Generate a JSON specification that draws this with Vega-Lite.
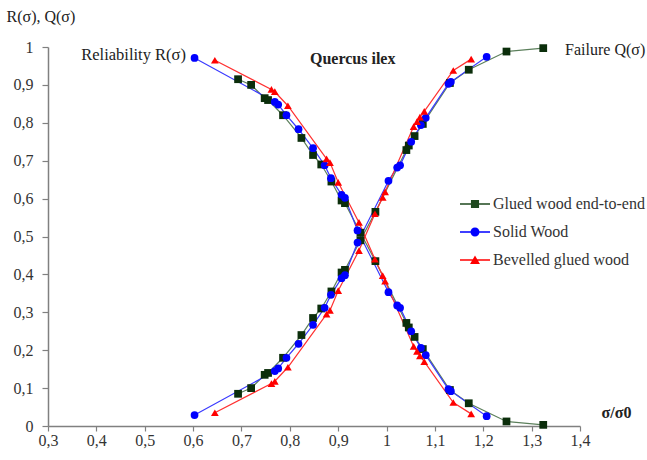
{
  "$schema": "https://vega.github.io/schema/vega-lite/v6.json",
  "width": 532,
  "height": 379,
  "autosize": {"type": "none"},
  "padding": {"left": 48, "top": 47, "right": 67, "bottom": 34},
  "background": "white",
  "config": {
    "view": {"stroke": null},
    "font": "Liberation Serif",
    "axis": {"grid": false, "domainColor": "#808080", "domainWidth": 1.5, "tickColor": "#808080", "tickWidth": 1.2,
      "labelFont": "Liberation Serif", "labelFontSize": 16, "labelColor": "#333", "labelFlush": false, "labelOverlap": false,
      "labelExpr": "replace(toString(datum.value), '.', ',')"},
    "axisX": {"tickCount": 12, "tickSize": 5, "labelPadding": 1},
    "axisY": {"tickCount": 11, "tickSize": 6, "labelPadding": 9}
  },
  "data": {
    "values": [
      {"s": "Glued wood end-to-end", "c": "Q", "r": 0.693, "p": 0.085},
      {"s": "Glued wood end-to-end", "c": "Q", "r": 0.720, "p": 0.100},
      {"s": "Glued wood end-to-end", "c": "Q", "r": 0.748, "p": 0.135},
      {"s": "Glued wood end-to-end", "c": "Q", "r": 0.755, "p": 0.140},
      {"s": "Glued wood end-to-end", "c": "Q", "r": 0.786, "p": 0.180},
      {"s": "Glued wood end-to-end", "c": "Q", "r": 0.824, "p": 0.240},
      {"s": "Glued wood end-to-end", "c": "Q", "r": 0.848, "p": 0.285},
      {"s": "Glued wood end-to-end", "c": "Q", "r": 0.865, "p": 0.310},
      {"s": "Glued wood end-to-end", "c": "Q", "r": 0.886, "p": 0.355},
      {"s": "Glued wood end-to-end", "c": "Q", "r": 0.907, "p": 0.405},
      {"s": "Glued wood end-to-end", "c": "Q", "r": 0.914, "p": 0.412},
      {"s": "Glued wood end-to-end", "c": "Q", "r": 0.946, "p": 0.490},
      {"s": "Glued wood end-to-end", "c": "Q", "r": 0.977, "p": 0.565},
      {"s": "Glued wood end-to-end", "c": "Q", "r": 1.041, "p": 0.728},
      {"s": "Glued wood end-to-end", "c": "Q", "r": 1.046, "p": 0.740},
      {"s": "Glued wood end-to-end", "c": "Q", "r": 1.058, "p": 0.765},
      {"s": "Glued wood end-to-end", "c": "Q", "r": 1.075, "p": 0.797},
      {"s": "Glued wood end-to-end", "c": "Q", "r": 1.131, "p": 0.905},
      {"s": "Glued wood end-to-end", "c": "Q", "r": 1.170, "p": 0.940},
      {"s": "Glued wood end-to-end", "c": "Q", "r": 1.248, "p": 0.988},
      {"s": "Glued wood end-to-end", "c": "Q", "r": 1.324, "p": 0.997},
      {"s": "Glued wood end-to-end", "c": "R", "r": 0.693, "p": 0.915},
      {"s": "Glued wood end-to-end", "c": "R", "r": 0.720, "p": 0.900},
      {"s": "Glued wood end-to-end", "c": "R", "r": 0.748, "p": 0.865},
      {"s": "Glued wood end-to-end", "c": "R", "r": 0.755, "p": 0.860},
      {"s": "Glued wood end-to-end", "c": "R", "r": 0.786, "p": 0.820},
      {"s": "Glued wood end-to-end", "c": "R", "r": 0.824, "p": 0.760},
      {"s": "Glued wood end-to-end", "c": "R", "r": 0.848, "p": 0.715},
      {"s": "Glued wood end-to-end", "c": "R", "r": 0.865, "p": 0.690},
      {"s": "Glued wood end-to-end", "c": "R", "r": 0.886, "p": 0.645},
      {"s": "Glued wood end-to-end", "c": "R", "r": 0.907, "p": 0.595},
      {"s": "Glued wood end-to-end", "c": "R", "r": 0.914, "p": 0.588},
      {"s": "Glued wood end-to-end", "c": "R", "r": 0.946, "p": 0.510},
      {"s": "Glued wood end-to-end", "c": "R", "r": 0.977, "p": 0.435},
      {"s": "Glued wood end-to-end", "c": "R", "r": 1.041, "p": 0.272},
      {"s": "Glued wood end-to-end", "c": "R", "r": 1.046, "p": 0.260},
      {"s": "Glued wood end-to-end", "c": "R", "r": 1.058, "p": 0.235},
      {"s": "Glued wood end-to-end", "c": "R", "r": 1.075, "p": 0.203},
      {"s": "Glued wood end-to-end", "c": "R", "r": 1.131, "p": 0.095},
      {"s": "Glued wood end-to-end", "c": "R", "r": 1.170, "p": 0.060},
      {"s": "Glued wood end-to-end", "c": "R", "r": 1.248, "p": 0.012},
      {"s": "Glued wood end-to-end", "c": "R", "r": 1.324, "p": 0.003},
      {"s": "Solid Wood", "c": "Q", "r": 0.603, "p": 0.029},
      {"s": "Solid Wood", "c": "Q", "r": 0.769, "p": 0.145},
      {"s": "Solid Wood", "c": "Q", "r": 0.776, "p": 0.152},
      {"s": "Solid Wood", "c": "Q", "r": 0.793, "p": 0.180},
      {"s": "Solid Wood", "c": "Q", "r": 0.818, "p": 0.217},
      {"s": "Solid Wood", "c": "Q", "r": 0.848, "p": 0.267},
      {"s": "Solid Wood", "c": "Q", "r": 0.872, "p": 0.312},
      {"s": "Solid Wood", "c": "Q", "r": 0.885, "p": 0.346},
      {"s": "Solid Wood", "c": "Q", "r": 0.907, "p": 0.390},
      {"s": "Solid Wood", "c": "Q", "r": 0.914, "p": 0.398},
      {"s": "Solid Wood", "c": "Q", "r": 0.940, "p": 0.484},
      {"s": "Solid Wood", "c": "Q", "r": 1.004, "p": 0.647},
      {"s": "Solid Wood", "c": "Q", "r": 1.022, "p": 0.682},
      {"s": "Solid Wood", "c": "Q", "r": 1.028, "p": 0.688},
      {"s": "Solid Wood", "c": "Q", "r": 1.051, "p": 0.750},
      {"s": "Solid Wood", "c": "Q", "r": 1.071, "p": 0.794},
      {"s": "Solid Wood", "c": "Q", "r": 1.081, "p": 0.813},
      {"s": "Solid Wood", "c": "Q", "r": 1.128, "p": 0.903},
      {"s": "Solid Wood", "c": "Q", "r": 1.133, "p": 0.908},
      {"s": "Solid Wood", "c": "Q", "r": 1.207, "p": 0.974},
      {"s": "Solid Wood", "c": "R", "r": 0.603, "p": 0.971},
      {"s": "Solid Wood", "c": "R", "r": 0.769, "p": 0.855},
      {"s": "Solid Wood", "c": "R", "r": 0.776, "p": 0.848},
      {"s": "Solid Wood", "c": "R", "r": 0.793, "p": 0.820},
      {"s": "Solid Wood", "c": "R", "r": 0.818, "p": 0.783},
      {"s": "Solid Wood", "c": "R", "r": 0.848, "p": 0.733},
      {"s": "Solid Wood", "c": "R", "r": 0.872, "p": 0.688},
      {"s": "Solid Wood", "c": "R", "r": 0.885, "p": 0.654},
      {"s": "Solid Wood", "c": "R", "r": 0.907, "p": 0.610},
      {"s": "Solid Wood", "c": "R", "r": 0.914, "p": 0.602},
      {"s": "Solid Wood", "c": "R", "r": 0.940, "p": 0.516},
      {"s": "Solid Wood", "c": "R", "r": 1.004, "p": 0.353},
      {"s": "Solid Wood", "c": "R", "r": 1.022, "p": 0.318},
      {"s": "Solid Wood", "c": "R", "r": 1.028, "p": 0.312},
      {"s": "Solid Wood", "c": "R", "r": 1.051, "p": 0.250},
      {"s": "Solid Wood", "c": "R", "r": 1.071, "p": 0.206},
      {"s": "Solid Wood", "c": "R", "r": 1.081, "p": 0.187},
      {"s": "Solid Wood", "c": "R", "r": 1.128, "p": 0.097},
      {"s": "Solid Wood", "c": "R", "r": 1.133, "p": 0.092},
      {"s": "Solid Wood", "c": "R", "r": 1.207, "p": 0.026},
      {"s": "Bevelled glued wood", "c": "Q", "r": 0.645, "p": 0.035},
      {"s": "Bevelled glued wood", "c": "Q", "r": 0.762, "p": 0.112},
      {"s": "Bevelled glued wood", "c": "Q", "r": 0.769, "p": 0.118},
      {"s": "Bevelled glued wood", "c": "Q", "r": 0.796, "p": 0.155},
      {"s": "Bevelled glued wood", "c": "Q", "r": 0.876, "p": 0.295},
      {"s": "Bevelled glued wood", "c": "Q", "r": 0.883, "p": 0.305},
      {"s": "Bevelled glued wood", "c": "Q", "r": 0.900, "p": 0.357},
      {"s": "Bevelled glued wood", "c": "Q", "r": 0.943, "p": 0.463},
      {"s": "Bevelled glued wood", "c": "Q", "r": 0.976, "p": 0.560},
      {"s": "Bevelled glued wood", "c": "Q", "r": 0.992, "p": 0.603},
      {"s": "Bevelled glued wood", "c": "Q", "r": 0.997, "p": 0.618},
      {"s": "Bevelled glued wood", "c": "Q", "r": 1.056, "p": 0.790},
      {"s": "Bevelled glued wood", "c": "Q", "r": 1.063, "p": 0.803},
      {"s": "Bevelled glued wood", "c": "Q", "r": 1.069, "p": 0.815},
      {"s": "Bevelled glued wood", "c": "Q", "r": 1.078, "p": 0.830},
      {"s": "Bevelled glued wood", "c": "Q", "r": 1.138, "p": 0.938},
      {"s": "Bevelled glued wood", "c": "Q", "r": 1.175, "p": 0.968},
      {"s": "Bevelled glued wood", "c": "R", "r": 0.645, "p": 0.965},
      {"s": "Bevelled glued wood", "c": "R", "r": 0.762, "p": 0.888},
      {"s": "Bevelled glued wood", "c": "R", "r": 0.769, "p": 0.882},
      {"s": "Bevelled glued wood", "c": "R", "r": 0.796, "p": 0.845},
      {"s": "Bevelled glued wood", "c": "R", "r": 0.876, "p": 0.705},
      {"s": "Bevelled glued wood", "c": "R", "r": 0.883, "p": 0.695},
      {"s": "Bevelled glued wood", "c": "R", "r": 0.900, "p": 0.643},
      {"s": "Bevelled glued wood", "c": "R", "r": 0.943, "p": 0.537},
      {"s": "Bevelled glued wood", "c": "R", "r": 0.976, "p": 0.440},
      {"s": "Bevelled glued wood", "c": "R", "r": 0.992, "p": 0.397},
      {"s": "Bevelled glued wood", "c": "R", "r": 0.997, "p": 0.382},
      {"s": "Bevelled glued wood", "c": "R", "r": 1.056, "p": 0.210},
      {"s": "Bevelled glued wood", "c": "R", "r": 1.063, "p": 0.197},
      {"s": "Bevelled glued wood", "c": "R", "r": 1.069, "p": 0.185},
      {"s": "Bevelled glued wood", "c": "R", "r": 1.078, "p": 0.170},
      {"s": "Bevelled glued wood", "c": "R", "r": 1.138, "p": 0.062},
      {"s": "Bevelled glued wood", "c": "R", "r": 1.175, "p": 0.032}
    ]
  },
  "layer": [
    {
      "mark": {"type": "line", "strokeWidth": 1.2},
      "encoding": {
        "x": {
          "field": "r", "type": "quantitative",
          "scale": {"domain": [0.3, 1.4], "nice": false, "zero": false},
          "axis": {
            "title": "σ/σ0", "titleX": 568, "titleY": -14, "titleAlign": "center", "titleBaseline": "middle",
            "titleFont": "Liberation Serif", "titleFontSize": 16, "titleFontWeight": "bold", "titleColor": "#222"
          }
        },
        "y": {
          "field": "p", "type": "quantitative",
          "scale": {"domain": [0, 1], "nice": false},
          "axis": {
            "title": "R(σ), Q(σ)", "titleAngle": 0, "titleX": -42, "titleY": -31, "titleAlign": "left", "titleBaseline": "middle",
            "titleFont": "Liberation Serif", "titleFontSize": 16, "titleFontWeight": "normal", "titleColor": "#222"
          }
        },
        "detail": {"field": "c", "type": "nominal"},
        "color": {
          "field": "s", "type": "nominal",
          "scale": {"domain": ["Glued wood end-to-end", "Solid Wood", "Bevelled glued wood"], "range": ["#5b7f5b", "#3a3aff", "#ff3030"]},
          "legend": null
        }
      }
    },
    {
      "mark": {"type": "point", "filled": true, "size": 60, "opacity": 1},
      "encoding": {
        "x": {"field": "r", "type": "quantitative"},
        "y": {"field": "p", "type": "quantitative"},
        "color": {
          "field": "s", "type": "nominal",
          "scale": {"domain": ["Glued wood end-to-end", "Solid Wood", "Bevelled glued wood"], "range": ["#0b2e0b", "#0000ff", "#ff0000"]},
          "legend": null
        },
        "shape": {
          "field": "s", "type": "nominal",
          "scale": {"domain": ["Glued wood end-to-end", "Solid Wood", "Bevelled glued wood"], "range": ["square", "circle", "triangle-up"]},
          "legend": null
        }
      }
    },
    {
      "mark": {"type": "point", "filled": true, "opacity": 0},
      "encoding": {
        "x": {"field": "r", "type": "quantitative"},
        "y": {"field": "p", "type": "quantitative"},
        "color": {
          "field": "s", "type": "nominal",
          "scale": {"domain": ["Glued wood end-to-end", "Solid Wood", "Bevelled glued wood"], "range": ["#1f4a1f", "#0000ff", "#ff0000"]},
          "legend": {"orient": "none", "legendX": 412, "legendY": 142, "title": null, "symbolSize": 900, "symbolOpacity": 1, "symbolStrokeWidth": 0,
            "labelFont": "Liberation Serif", "labelFontSize": 16, "labelColor": "#333", "labelOffset": 3, "rowPadding": 5, "padding": 0}
        },
        "shape": {
          "field": "s", "type": "nominal",
          "scale": {"domain": ["Glued wood end-to-end", "Solid Wood", "Bevelled glued wood"],
            "range": [
              "M-1,-0.045H1V0.045H-1Z M-0.27,-0.27H0.27V0.27H-0.27Z",
              "M-1,-0.045H1V0.045H-1Z M-0.3,0A0.3,0.3 0 1,1 0.3,0A0.3,0.3 0 1,1 -0.3,0Z",
              "M-1,-0.045H1V0.045H-1Z M0,-0.3L0.33,0.27L-0.33,0.27Z"
            ]},
          "legend": {"orient": "none", "legendX": 412, "legendY": 142, "title": null, "symbolSize": 900, "symbolOpacity": 1, "symbolStrokeWidth": 0,
            "labelFont": "Liberation Serif", "labelFontSize": 16, "labelColor": "#333", "labelOffset": 3, "rowPadding": 5, "padding": 0}
        }
      }
    },
    {
      "data": {"values": [{}]},
      "mark": {"type": "text", "font": "Liberation Serif", "fontSize": 16.5, "color": "#222", "align": "center", "baseline": "middle"},
      "encoding": {
        "x": {"datum": 0.477, "type": "quantitative"},
        "y": {"datum": 0.979, "type": "quantitative"},
        "text": {"value": "Reliability R(σ)"}
      }
    },
    {
      "data": {"values": [{}]},
      "mark": {"type": "text", "font": "Liberation Serif", "fontSize": 16, "fontWeight": "bold", "color": "#222", "align": "center", "baseline": "middle"},
      "encoding": {
        "x": {"datum": 0.930, "type": "quantitative"},
        "y": {"datum": 0.969, "type": "quantitative"},
        "text": {"value": "Quercus ilex"}
      }
    },
    {
      "data": {"values": [{}]},
      "mark": {"type": "text", "font": "Liberation Serif", "fontSize": 16, "color": "#222", "align": "center", "baseline": "middle"},
      "encoding": {
        "x": {"datum": 1.452, "type": "quantitative"},
        "y": {"datum": 0.993, "type": "quantitative"},
        "text": {"value": "Failure Q(σ)"}
      }
    }
  ],
  "resolve": {"scale": {"color": "independent", "shape": "independent"}}
}
